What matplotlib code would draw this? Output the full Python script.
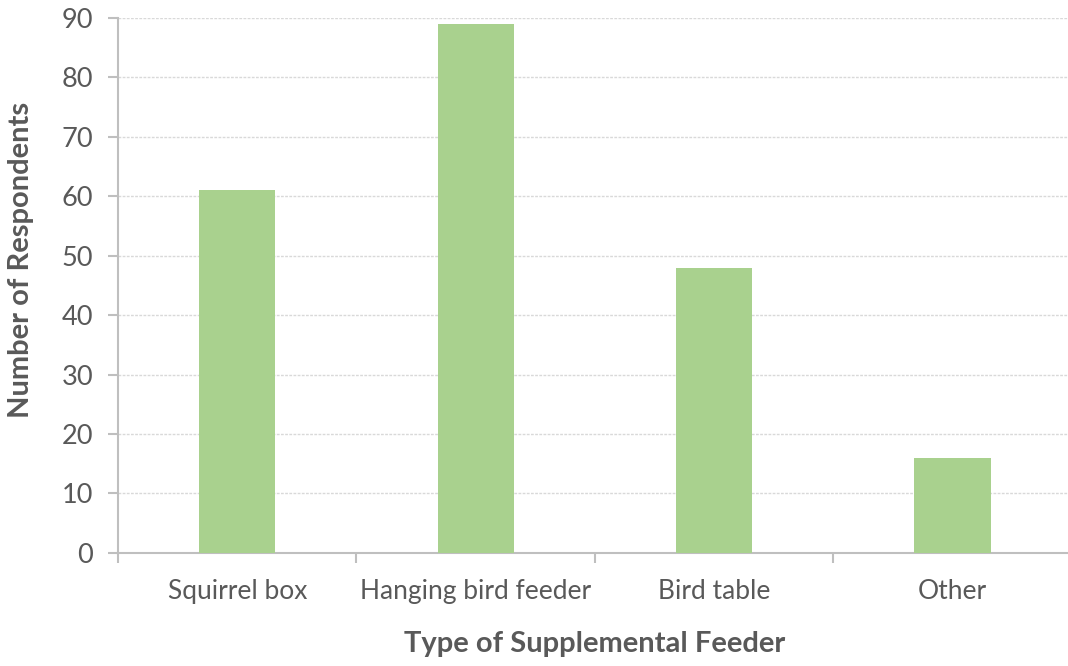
import numpy as np
import matplotlib.pyplot as plt

categories = ["Squirrel box", "Hanging bird feeder", "Bird table", "Other"]
respondents = [61, 89, 48, 16]

plt.rcParams["font.family"] = ["Lato", "DejaVu Sans"]
grey = "#595959"
axis_col = "#BFBFBF"

fig = plt.figure(figsize=(10.68, 6.66), dpi=100)
ax = fig.add_axes([0.1105, 0.170, 0.893, 0.803])

x = np.arange(len(categories))
ax.bar(x, respondents, width=0.32, color="#A9D18E", zorder=3)

ax.set_xlim(-0.5, len(categories) - 0.5)
ax.set_ylim(0, 90)
ax.set_yticks(np.arange(0, 91, 10))
ax.yaxis.grid(True, color="#D9D9D9", linestyle=(0, (2, 1)), linewidth=1, zorder=0)

# category labels centred, tick marks between categories
ax.set_xticks(x)
ax.set_xticklabels(categories)
ax.set_xticks(np.arange(-0.5, len(categories), 1.0), minor=True)
ax.tick_params(axis="x", which="major", length=0, pad=19, labelsize=19, labelcolor=grey)
ax.tick_params(axis="x", which="minor", length=7, width=1.5, color=axis_col)
ax.tick_params(axis="y", length=7, width=1.5, color=axis_col, labelsize=19.5, labelcolor=grey, pad=11)

for side in ["top", "right"]:
    ax.spines[side].set_visible(False)
for side in ["left", "bottom"]:
    ax.spines[side].set_color(axis_col)
    ax.spines[side].set_linewidth(1.5)

ax.set_xlabel("Type of Supplemental Feeder", fontsize=21, fontweight="bold", color=grey, labelpad=19)
ax.set_ylabel("Number of Respondents", fontsize=21, fontweight="bold", color=grey)
ax.yaxis.set_label_coords(-0.088, 0.548)

fig.savefig("out.png", dpi=100)
